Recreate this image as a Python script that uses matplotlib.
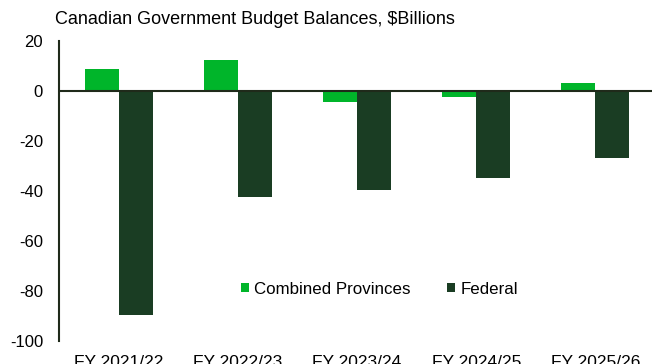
import numpy as np
import matplotlib.pyplot as plt

plt.rcParams['font.family'] = ['Liberation Sans', 'DejaVu Sans']
plt.rcParams['axes.unicode_minus'] = False

years = ['FY 2021/22', 'FY 2022/23', 'FY 2023/24', 'FY 2024/25', 'FY 2025/26']
provinces = [8.9, 12.3, -4.3, -2.3, 3.1]
federal = [-89.6, -42.5, -39.7, -34.8, -26.7]

prov_color = '#00B52A'
fed_color = '#1A3D23'
axis_color = '#1F2A1A'

fig = plt.figure(figsize=(6.52, 3.64), dpi=100)
# left edge of plot at x=59px, category spacing ~119px; right side runs past the canvas
ax = fig.add_axes([59 / 652, 23 / 364, 596 / 652, 300 / 364])

x = np.arange(len(years))
w = 0.285
ax.bar(x - w / 2, provinces, w, color=prov_color, label='Combined Provinces', zorder=2)
ax.bar(x + w / 2, federal, w, color=fed_color, label='Federal', zorder=2)

ax.axhline(0, color=axis_color, lw=1.5, zorder=3)
ax.set_ylim(-100, 20)
ax.set_xlim(-0.5, 4.5)
ax.set_yticks(range(-100, 21, 20))
ax.set_xticks(x)
ax.set_xticklabels(years)
ax.tick_params(axis='y', length=0, pad=11.5, labelsize=12)
ax.tick_params(axis='x', length=0, pad=10, labelsize=12.5)

for side in ['top', 'right', 'bottom']:
    ax.spines[side].set_visible(False)
ax.spines['left'].set_color(axis_color)
ax.spines['left'].set_linewidth(1.5)

ax.legend(loc='center', bbox_to_anchor=(0.5375, 0.173), ncol=2, frameon=False,
          fontsize=12.2, handlelength=0.45, handleheight=0.45, handletextpad=0.3,
          columnspacing=2.2)

fig.text(55 / 652, 1 - 19 / 364, 'Canadian Government Budget Balances, $Billions',
         fontsize=13, va='center', ha='left')

plt.savefig('out.png', dpi=100)
